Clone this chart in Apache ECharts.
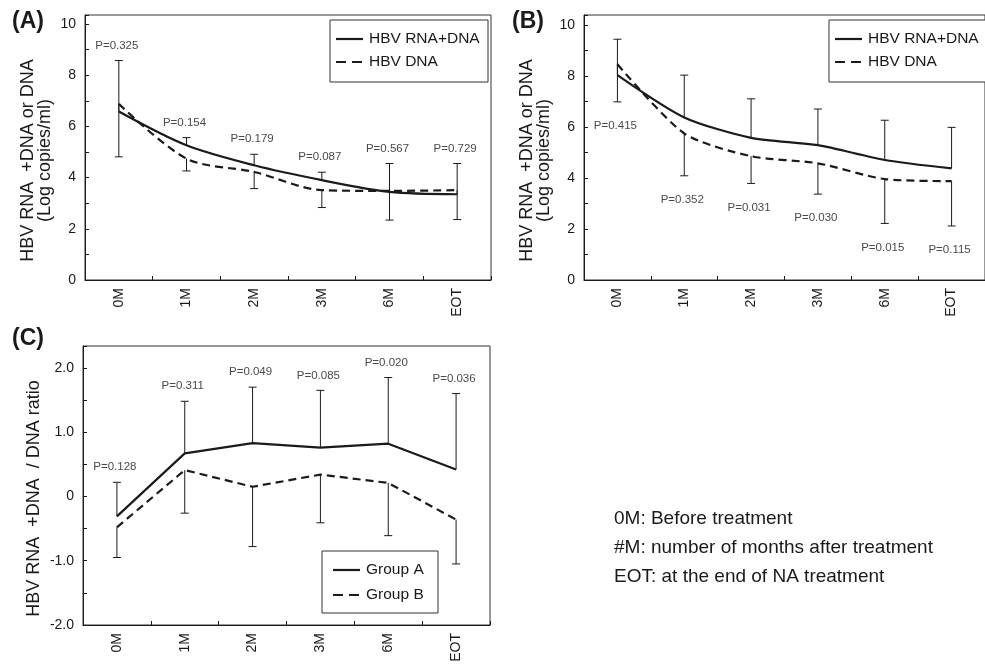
<!DOCTYPE html>
<html>
<head>
<meta charset="utf-8">
<script src="https://cdn.jsdelivr.net/npm/echarts@6/dist/echarts.min.js"></script>
<style>
  html, body { margin: 0; padding: 0; background: #fff; }
  #chart { width: 985px; height: 667px; }
</style>
</head>
<body>
<div id="chart"></div>
<script>
// Time points shared by all three panels
const categories = ['0M', '1M', '2M', '3M', '6M', 'EOT'];

// Panel A: means (log copies/ml) with one-sided SD bars
const aRnaDna      = [6.58, 5.26, 4.48, 3.90, 3.44, 3.35];
const aRnaDnaUpper = [8.57, 5.56, 4.91, 4.21, 4.55, 4.55];
const aDna         = [6.88, 4.74, 4.22, 3.51, 3.48, 3.51];
const aDnaLower    = [4.81, 4.26, 3.57, 2.83, 2.34, 2.36];
const aP           = ['0.325', '0.154', '0.179', '0.087', '0.567', '0.729'];

// Panel B
const bRnaDna      = [8.04, 6.38, 5.58, 5.29, 4.71, 4.38];
const bRnaDnaUpper = [9.45, 8.04, 7.11, 6.71, 6.27, 5.99];
const bDna         = [8.47, 5.75, 4.86, 4.58, 3.96, 3.88];
const bDnaLower    = [6.99, 4.09, 3.79, 3.37, 2.22, 2.12];
const bP           = ['0.415', '0.352', '0.031', '0.030', '0.015', '0.115'];

// Panel C: (RNA+DNA)/DNA ratio by group
const cGroupA      = [-0.31, 0.67, 0.83, 0.76, 0.82, 0.42];
const cGroupAUpper = [0.22, 1.48, 1.70, 1.65, 1.85, 1.60];
const cGroupB      = [-0.48, 0.41, 0.15, 0.34, 0.21, -0.36];
const cGroupBLower = [-0.95, -0.26, -0.78, -0.41, -0.61, -1.05];
const cP           = ['0.128', '0.311', '0.049', '0.085', '0.020', '0.036'];

// Y tick labels
const yTicksLog   = [0, 2, 4, 6, 8, 10];
const yTicksRatio = [-2, -1, 0, 1, 2];

// Series names used in the legends
const namesAB = ['HBV RNA+DNA', 'HBV DNA'];
const namesC  = ['Group A', 'Group B'];

// Footnotes
const notes = [
  '0M: Before treatment',
  '#M: number of months after treatment',
  'EOT: at the end of NA treatment'
];

const FONT = '"Liberation Sans", Arial, sans-serif';
const INK = '#1a1a1a';
const DASH = [8, 5];

const chart = echarts.init(document.getElementById('chart'), null, { renderer: 'canvas' });

function pairs(vals, ends) {
  return vals.map((v, i) => [i, v, ends[i]]);
}

// One-sided error bar with a small cap
function errorBarItem(params, api) {
  const p0 = api.coord([api.value(0), api.value(1)]);
  const p1 = api.coord([api.value(0), api.value(2)]);
  const style = { stroke: INK, lineWidth: 1 };
  return {
    type: 'group',
    children: [
      { type: 'line', shape: { x1: p0[0], y1: p0[1], x2: p1[0], y2: p1[1] }, style },
      { type: 'line', shape: { x1: p1[0] - 4, y1: p1[1], x2: p1[0] + 4, y2: p1[1] }, style }
    ]
  };
}

// P-value text placed next to an error bar cap
function pLabelRenderer(texts, dy) {
  return function (params, api) {
    const c = api.coord([api.value(0), api.value(1)]);
    return {
      type: 'text',
      x: c[0] - 2,
      y: c[1] + dy,
      style: {
        text: 'P=' + texts[params.dataIndex],
        fill: '#4a4a4a',
        font: '11.5px ' + FONT,
        align: 'center',
        verticalAlign: 'middle'
      }
    };
  };
}

function xAxisFor(gridIndex) {
  return {
    type: 'category',
    gridIndex,
    data: categories,
    boundaryGap: true,
    axisLine: { onZero: false, lineStyle: { color: INK, width: 1 } },
    axisTick: { show: true, inside: true, length: 4, alignWithLabel: false, lineStyle: { color: INK } },
    axisLabel: { rotate: 90, margin: 8, color: INK, fontFamily: FONT, fontSize: 14 },
    splitLine: { show: false }
  };
}

function yAxisFor(gridIndex, min, max, step, shown, fmt, name, nameGap) {
  return {
    type: 'value',
    gridIndex,
    min, max, interval: step,
    name,
    nameLocation: 'middle',
    nameGap,
    nameRotate: 90,
    nameTextStyle: { color: INK, fontFamily: FONT, fontSize: 18, lineHeight: 17, padding: [0, 26, 0, 0] },
    axisLine: { show: true, onZero: false, lineStyle: { color: INK, width: 1 } },
    axisTick: { show: true, inside: true, length: 4, lineStyle: { color: INK } },
    axisLabel: {
      color: INK, fontFamily: FONT, fontSize: 14, margin: 9,
      showMaxLabel: true,
      formatter: v => {
        const hit = shown.find(t => Math.abs(t - v) < 1e-6);
        return hit === undefined ? '' : fmt(hit);
      }
    },
    splitLine: { show: false }
  };
}

function lineSeries(name, data, dashed, axisIndex, smooth) {
  return {
    type: 'line', name, data,
    xAxisIndex: axisIndex, yAxisIndex: axisIndex,
    symbol: 'none', smooth,
    lineStyle: { color: INK, width: 2.2, type: dashed ? DASH : 'solid' },
    itemStyle: { color: INK },
    z: 3
  };
}

function barSeries(vals, ends, axisIndex) {
  return {
    type: 'custom', renderItem: errorBarItem,
    xAxisIndex: axisIndex, yAxisIndex: axisIndex,
    data: pairs(vals, ends), z: 2, silent: true
  };
}

function pSeries(caps, texts, dy, axisIndex) {
  return {
    type: 'custom', renderItem: pLabelRenderer(texts, dy),
    xAxisIndex: axisIndex, yAxisIndex: axisIndex,
    data: caps.map((v, i) => [i, v]), z: 4, silent: true
  };
}

// Boxed key: solid sample on the first row, dashed on the second
function keyBox(x, y, w, h, rowY, sampleX, names) {
  const children = [
    { type: 'rect', shape: { x, y, width: w, height: h }, style: { fill: '#fff', stroke: '#333', lineWidth: 1 } }
  ];
  names.forEach((n, i) => {
    children.push({
      type: 'line',
      shape: { x1: sampleX, y1: rowY[i], x2: sampleX + 27, y2: rowY[i] },
      style: { stroke: INK, lineWidth: 2.2, lineDash: i === 0 ? null : [10, 6] }
    });
    children.push({
      type: 'text', x: sampleX + 33, y: rowY[i],
      style: { text: n, font: '15.5px ' + FONT, fill: INK, verticalAlign: 'middle', align: 'left' }
    });
  });
  return { type: 'group', z: 100, children };
}

const plainInt = v => String(v);
const oneDec = v => (v === 0 ? '0' : v.toFixed(1));

const option = {
  animation: false,
  backgroundColor: '#fff',
  grid: [
    { left: 85, top: 15, width: 406, height: 265, show: true, borderColor: '#333', borderWidth: 1 },
    { left: 584, top: 15, width: 404, height: 265, show: true, borderColor: '#333', borderWidth: 1 },
    { left: 83, top: 346, width: 407, height: 279, show: true, borderColor: '#333', borderWidth: 1 }
  ],
  xAxis: [xAxisFor(0), xAxisFor(1), xAxisFor(2)],
  yAxis: [
    yAxisFor(0, 0, 10.35, 1, yTicksLog, plainInt, 'HBV RNA  +DNA or DNA\n(Log copies/ml)', 31),
    yAxisFor(1, 0, 10.4, 1, yTicksLog, plainInt, 'HBV RNA  +DNA or DNA\n(Log copies/ml)', 31),
    yAxisFor(2, -2, 2.34, 0.5, yTicksRatio, oneDec, 'HBV RNA  +DNA  / DNA ratio', 40)
  ],
  graphic: [
    { type: 'text', left: 12, top: 10, style: { text: '(A)', font: 'bold 23px ' + FONT, fill: INK } },
    { type: 'text', left: 512, top: 10, style: { text: '(B)', font: 'bold 23px ' + FONT, fill: INK } },
    { type: 'text', left: 12, top: 327, style: { text: '(C)', font: 'bold 23px ' + FONT, fill: INK } },
    keyBox(330, 20, 158, 62, [39, 62], 336, namesAB),
    keyBox(829, 20, 170, 62, [39, 62], 835, namesAB),
    keyBox(322, 551, 116, 62, [570, 595], 333, namesC),
    { type: 'text', left: 614, top: 509, style: { text: notes[0], font: '19px ' + FONT, fill: INK } },
    { type: 'text', left: 614, top: 538, style: { text: notes[1], font: '19px ' + FONT, fill: INK } },
    { type: 'text', left: 614, top: 567, style: { text: notes[2], font: '19px ' + FONT, fill: INK } }
  ],
  series: [
    // Panel A
    barSeries(aRnaDna, aRnaDnaUpper, 0),
    barSeries(aDna, aDnaLower, 0),
    lineSeries(namesAB[0], aRnaDna, false, 0, 0.3),
    lineSeries(namesAB[1], aDna, true, 0, 0.3),
    pSeries(aRnaDnaUpper, aP, -15, 0),
    // Panel B
    barSeries(bRnaDna, bRnaDnaUpper, 1),
    barSeries(bDna, bDnaLower, 1),
    lineSeries(namesAB[0], bRnaDna, false, 1, 0.25),
    lineSeries(namesAB[1], bDna, true, 1, 0.25),
    pSeries(bDnaLower, bP, 24, 1),
    // Panel C
    barSeries(cGroupA, cGroupAUpper, 2),
    barSeries(cGroupB, cGroupBLower, 2),
    lineSeries(namesC[0], cGroupA, false, 2, false),
    lineSeries(namesC[1], cGroupB, true, 2, false),
    pSeries(cGroupAUpper, cP, -15, 2)
  ]
};

chart.setOption(option);
</script>
</body>
</html>
